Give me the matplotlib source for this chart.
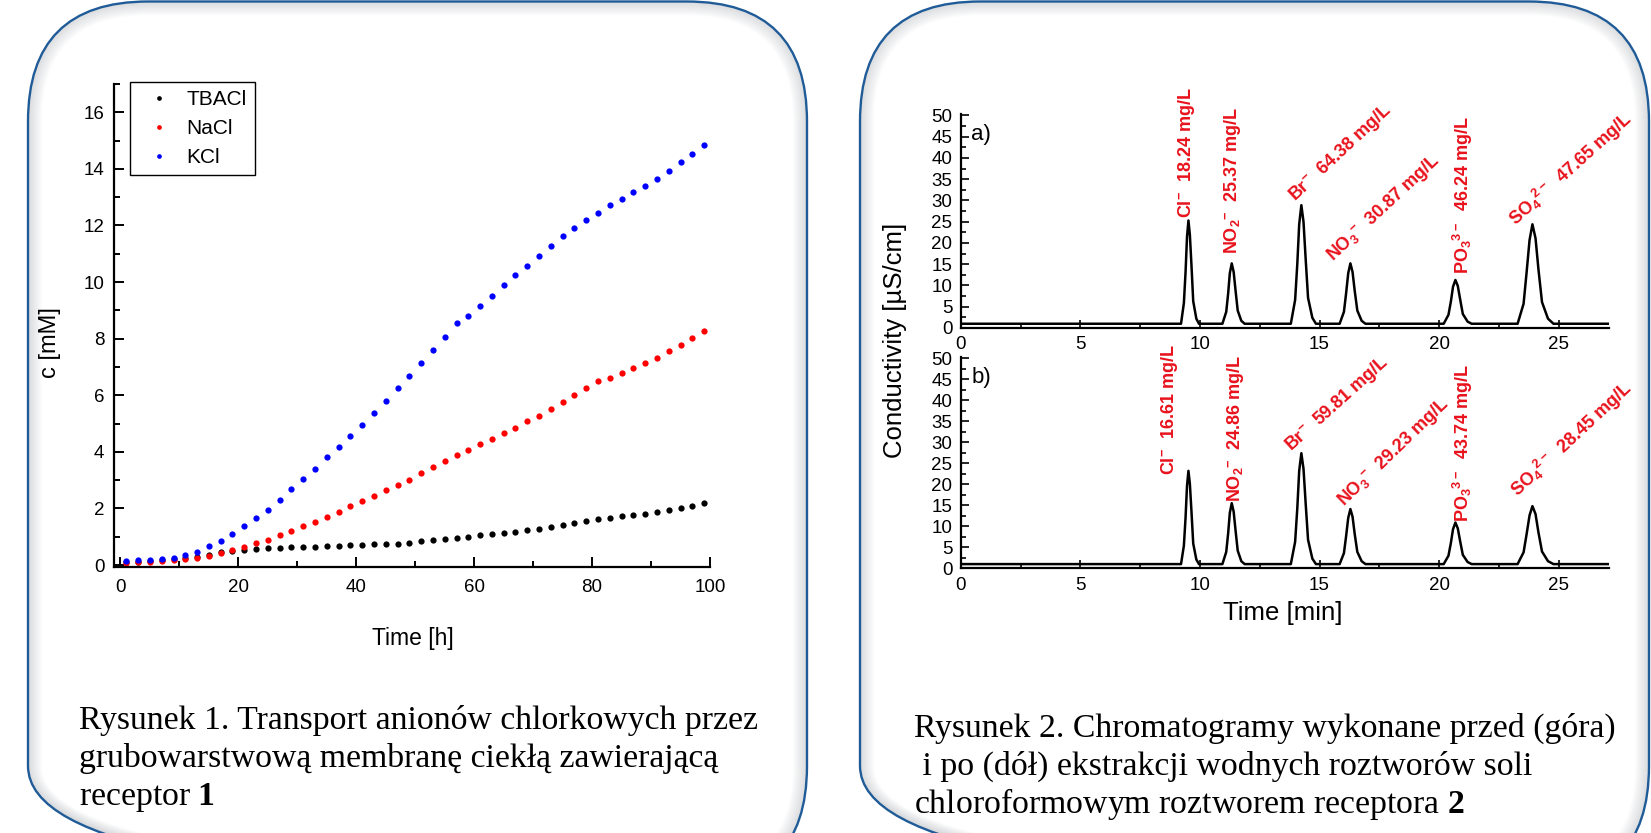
import matplotlib
matplotlib.use("Agg")
import matplotlib.pyplot as plt
from matplotlib.patches import FancyBboxPatch
from matplotlib.ticker import MultipleLocator

plt.rcParams['font.family'] = ['Liberation Sans', 'DejaVu Sans']
plt.rcParams['mathtext.fontset'] = 'custom'
plt.rcParams['mathtext.default'] = 'regular'
plt.rcParams['mathtext.bf'] = 'Liberation Serif:bold'

W, H = 1651, 833

# ---- Rysunek 1: transport data (every 2 h) ----
hours = list(range(1, 100, 2))
tbacl = [0.10, 0.12, 0.14, 0.17, 0.20, 0.24, 0.29, 0.34, 0.45, 0.51,
         0.53, 0.57, 0.60, 0.61, 0.62, 0.65, 0.65, 0.66, 0.67, 0.70,
         0.70, 0.73, 0.75, 0.76, 0.79, 0.84, 0.88, 0.93, 0.96, 1.00,
         1.05, 1.08, 1.14, 1.18, 1.24, 1.29, 1.35, 1.42, 1.49, 1.55,
         1.61, 1.67, 1.72, 1.78, 1.82, 1.88, 1.95, 2.01, 2.08, 2.20]
nacl = [0.08, 0.09, 0.12, 0.14, 0.16, 0.20, 0.26, 0.33, 0.42, 0.52,
        0.62, 0.77, 0.89, 1.05, 1.19, 1.37, 1.52, 1.71, 1.88, 2.08,
        2.26, 2.44, 2.64, 2.84, 3.02, 3.24, 3.45, 3.67, 3.89, 4.07,
        4.26, 4.45, 4.65, 4.84, 5.08, 5.28, 5.53, 5.77, 6.02, 6.24,
        6.49, 6.61, 6.80, 6.98, 7.15, 7.33, 7.56, 7.76, 8.01, 8.27]
kcl = [0.14, 0.16, 0.17, 0.20, 0.26, 0.35, 0.47, 0.66, 0.86, 1.10,
       1.39, 1.65, 1.96, 2.29, 2.67, 3.04, 3.41, 3.80, 4.18, 4.56,
       4.96, 5.37, 5.78, 6.24, 6.68, 7.15, 7.59, 8.06, 8.54, 8.80,
       9.15, 9.51, 9.88, 10.24, 10.56, 10.91, 11.27, 11.62, 11.91, 12.19,
       12.45, 12.72, 12.95, 13.18, 13.41, 13.65, 13.94, 14.25, 14.54, 14.84]
series_names = ['TBACl', 'NaCl', 'KCl']
series_colors = ['black', '#ff0000', '#0000ff']

# ---- Rysunek 2: chromatograms ----
time_min = [0.0,
            9.21, 9.33, 9.40, 9.46, 9.52, 9.58, 9.65, 9.72, 9.85, 9.96,
            10.94, 11.10, 11.18, 11.25, 11.33, 11.41, 11.49, 11.58, 11.73, 11.87,
            13.80, 13.98, 14.07, 14.15, 14.24, 14.33, 14.42, 14.52, 14.70, 14.85,
            15.84, 16.02, 16.11, 16.20, 16.29, 16.38, 16.47, 16.58, 16.76, 16.92,
            20.19, 20.39, 20.49, 20.58, 20.68, 20.78, 20.88, 20.99, 21.19, 21.36,
            23.28, 23.53, 23.65, 23.78, 23.90, 24.03, 24.15, 24.30, 24.55, 24.78,
            27.1]
cond_a = [1.0,
          1.0, 5.9, 13.2, 21.4, 25.3, 21.9, 14.4, 6.3, 2.2, 1.0,
          1.0, 3.8, 8.1, 12.9, 15.2, 13.2, 8.8, 4.1, 1.7, 1.0,
          1.0, 6.6, 15.0, 24.4, 28.9, 25.0, 16.3, 7.1, 2.4, 1.0,
          1.0, 3.8, 8.1, 12.9, 15.2, 13.2, 8.8, 4.1, 1.7, 1.0,
          1.0, 3.1, 6.2, 9.7, 11.3, 9.9, 6.7, 3.3, 1.5, 1.0,
          1.0, 5.7, 12.7, 20.7, 24.4, 21.1, 13.9, 6.1, 2.2, 1.0,
          1.0]
cond_b = [1.0,
          1.0, 5.4, 12.1, 19.6, 23.2, 20.1, 13.2, 5.9, 2.1, 1.0,
          1.0, 3.9, 8.3, 13.2, 15.5, 13.5, 9.0, 4.2, 1.7, 1.0,
          1.0, 6.3, 14.2, 23.2, 27.4, 23.7, 15.5, 6.8, 2.3, 1.0,
          1.0, 3.6, 7.6, 12.0, 14.1, 12.3, 8.2, 3.9, 1.7, 1.0,
          1.0, 3.0, 6.0, 9.3, 10.9, 9.5, 6.4, 3.2, 1.5, 1.0,
          1.0, 3.8, 7.9, 12.6, 14.8, 12.9, 8.6, 4.0, 1.7, 1.0,
          1.0]
ions = [r'Cl$^{-}$', r'NO$_{2}$$^{-}$', r'Br$^{-}$', r'NO$_{3}$$^{-}$',
        r'PO$_{3}$$^{3-}$', r'SO$_{4}$$^{2-}$']
conc_a = ['18.24', '25.37', '64.38', '30.87', '46.24', '47.65']
conc_b = ['16.61', '24.86', '59.81', '29.23', '43.74', '28.45']
# label anchor (time, conductivity, angle)
lab_pos_a = [(9.42, 25.8, 90), (11.38, 17.5, 90), (13.85, 30.5, 43),
             (15.45, 16.3, 43), (21.0, 12.8, 90), (23.05, 25.0, 42)]
lab_pos_b = [(8.72, 22.2, 90), (11.5, 15.9, 90), (13.68, 28.6, 42),
             (15.88, 15.5, 44), (21.0, 11.1, 90), (23.1, 17.9, 43)]

fig = plt.figure(figsize=(W / 100, H / 100), dpi=100)
fig.patch.set_facecolor('white')

# background layer in pixel coordinates
bg = fig.add_axes([0, 0, 1, 1], zorder=0)
bg.set_xlim(0, W)
bg.set_ylim(H, 0)
bg.axis('off')

frame_color = '#1f5b97'
for x0, x1 in [(28, 807), (860, 1649)]:
    y0, y1, r = 1.5, 886, 120
    # soft inner shadow
    for k in range(1, 14):
        sh = FancyBboxPatch((x0 + k, y0 + k), x1 - x0 - 2 * k, y1 - y0 - 2 * k,
                            boxstyle=f"round,pad=0,rounding_size={r - k}",
                            fc='none', ec='#8a8f98', lw=1.6,
                            alpha=0.16 * (1 - k / 14))
        bg.add_patch(sh)
    box = FancyBboxPatch((x0, y0), x1 - x0, y1 - y0,
                         boxstyle=f"round,pad=0,rounding_size={r}",
                         fc='none', ec=frame_color, lw=1.7)
    bg.add_patch(box)

# captions
cap_kw = dict(family='Liberation Serif', fontsize=24.3, va='baseline', ha='left')
bg.text(79, 729, 'Rysunek 1. Transport anionów chlorkowych przez', **cap_kw)
bg.text(79, 767, 'grubowarstwową membranę ciekłą zawierającą', **cap_kw)
bg.text(79, 805, r'receptor $\mathbf{1}$', **cap_kw)
bg.text(914, 737, 'Rysunek 2. Chromatogramy wykonane przed (góra)', **cap_kw)
bg.text(914, 775, ' i po (dół) ekstrakcji wodnych roztworów soli', **cap_kw)
bg.text(914, 813, r'chloroformowym roztworem receptora $\mathbf{2}$', **cap_kw)

# ---- left chart ----
ax1 = fig.add_axes([114 / W, 1 - 567 / H, 596 / W, 483 / H], zorder=2)
ax1.set_facecolor('none')
for name, vals, col in zip(series_names, [tbacl, nacl, kcl], series_colors):
    ax1.plot(hours, vals, 'o', ms=4.5, color=col, mec='none', label=name)
ax1.set_xlim(-1.1, 100)
ax1.set_ylim(-0.07, 17.0)
ax1.xaxis.set_major_locator(MultipleLocator(20))
ax1.xaxis.set_minor_locator(MultipleLocator(10))
ax1.yaxis.set_major_locator(MultipleLocator(2))
ax1.yaxis.set_minor_locator(MultipleLocator(1))
for s in ['top', 'right']:
    ax1.spines[s].set_visible(False)
for s in ['left', 'bottom']:
    ax1.spines[s].set_linewidth(1.6)
ax1.tick_params(which='both', direction='in', width=1.4, labelsize=13.5)
ax1.tick_params(which='major', length=7)
ax1.tick_params(which='minor', length=4)
ax1.tick_params(axis='x', pad=9)
ax1.tick_params(axis='y', pad=7)
ax1.set_xlabel('Time [h]', fontsize=16.5)
ax1.set_ylabel('c [mM]', fontsize=17)
ax1.xaxis.set_label_coords(0.502, -0.124)
ax1.yaxis.set_label_coords(-0.089, 0.464)
leg = ax1.legend(loc='upper left', bbox_to_anchor=(0.027, 1.005), fontsize=15,
                 markerscale=0.75, handlelength=2.0, handletextpad=0.3,
                 labelspacing=0.48, borderpad=0.4, borderaxespad=0,
                 fancybox=False, framealpha=1, edgecolor='black')
leg.get_frame().set_linewidth(1.0)

# ---- right chart ----
ax_top = fig.add_axes([960.7 / W, 1 - 328 / H, 647.8 / W, 213.8 / H], zorder=2)
ax_bot = fig.add_axes([960.7 / W, 1 - 568.3 / H, 647.8 / W, 211.3 / H], zorder=2)
red = '#e8121c'
for ax, cond, concs, positions, tag in [(ax_top, cond_a, conc_a, lab_pos_a, 'a)'),
                                         (ax_bot, cond_b, conc_b, lab_pos_b, 'b)')]:
    ax.set_facecolor('none')
    ax.plot(time_min, cond, color='black', lw=1.8, solid_joinstyle='round')
    ax.set_xlim(0, 27.08)
    ax.set_ylim(0, 50.3)
    ax.xaxis.set_major_locator(MultipleLocator(5))
    ax.xaxis.set_minor_locator(MultipleLocator(2.5))
    ax.yaxis.set_major_locator(MultipleLocator(5))
    ax.yaxis.set_minor_locator(MultipleLocator(2.5))
    for s in ['top', 'right']:
        ax.spines[s].set_visible(False)
    for s in ['left', 'bottom']:
        ax.spines[s].set_linewidth(1.6)
    ax.tick_params(which='both', direction='in', width=1.2, labelsize=13.5)
    ax.tick_params(which='major', length=6)
    ax.tick_params(which='minor', length=3.5)
    ax.tick_params(axis='x', pad=6)
    ax.tick_params(axis='y', pad=6)
    ax.text(0.45, 45.5, tag, fontsize=16, va='center', ha='left')
    for ion, conc, (tx, ty, rot) in zip(ions, concs, positions):
        ax.text(tx, ty, f'{ion}  {conc} mg/L', color=red, fontsize=13,
                fontweight='bold', rotation=rot, rotation_mode='anchor',
                ha='left', va='center', clip_on=False)

bg.text(895, 340, 'Conductivity [µS/cm]', fontsize=18.5, rotation=90,
        ha='center', va='center')
bg.text(1283, 613, 'Time [min]', fontsize=18.5, ha='center', va='center')

fig.savefig('out.png', dpi=100, facecolor='white')
